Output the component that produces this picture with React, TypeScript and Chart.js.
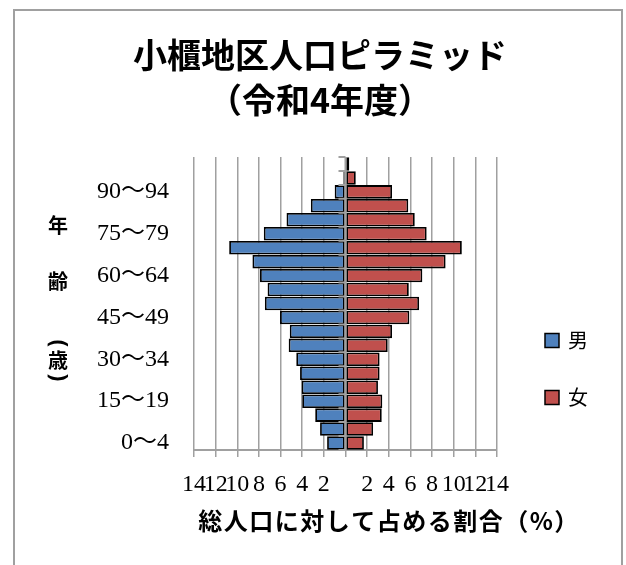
import React, { useEffect, useRef } from 'react';
import { Chart, registerables } from 'chart.js';

Chart.register(...registerables);

// Age groups, top (oldest) to bottom (youngest)
const AGE_LABELS = [
  '100〜', '95〜99', '90〜94', '85〜89', '80〜84', '75〜79', '70〜74',
  '65〜69', '60〜64', '55〜59', '50〜54', '45〜49', '40〜44', '35〜39',
  '30〜34', '25〜29', '20〜24', '15〜19', '10〜14', '5〜9', '0〜4',
];
// Share of total population (%)
const MALE = [
  0, 0.2, 1.0, 3.2, 5.45, 7.55, 10.75, 8.6, 7.9, 7.2, 7.45, 6.05, 5.15,
  5.25, 4.55, 4.2, 4.05, 4.0, 2.8, 2.35, 1.7,
];
const FEMALE = [
  0.35, 0.95, 4.3, 5.8, 6.4, 7.5, 10.75, 9.25, 7.1, 5.85, 6.8, 5.9, 4.3,
  3.9, 3.15, 3.15, 3.0, 3.4, 3.35, 2.55, 1.7,
];
const SERIES_NAMES = ['男', '女'];
const SERIES_COLORS = ['#4F81BD', '#C0504D'];
const X_MIN = -14;
const X_MAX = 14;
const X_STEP = 2;
const TITLE_LINES = ['小櫃地区人口ピラミッド', '（令和4年度）'];
const Y_TITLE_CHARS = ['年', '齢', '(', '歳', ')'];
const X_TITLE = '総人口に対して占める割合（%）';

const GRID_COLOR = '#a0a0a0';
const SERIF = "'Liberation Serif', 'Noto Sans CJK JP', serif";
const GOTHIC = "'Noto Sans CJK JP', 'Noto Sans', sans-serif";

const overlay = {
  id: 'overlay',
  afterDatasetsDraw(chart: any) {
    const { ctx, chartArea, scales } = chart;
    const x = scales.x;
    const y = scales.y;
    const x0 = x.getPixelForValue(0);
    ctx.save();
    ctx.strokeStyle = GRID_COLOR;
    ctx.lineWidth = 2;
    ctx.beginPath();
    ctx.moveTo(x0, chartArea.top);
    ctx.lineTo(x0, chartArea.bottom);
    for (let i = 0; i <= AGE_LABELS.length; i++) {
      const yy = y.getPixelForValue(i - 0.5);
      ctx.moveTo(x0 - 7, yy);
      ctx.lineTo(x0, yy);
    }
    ctx.stroke();
    ctx.restore();
  },
  afterDraw(chart: any) {
    const { ctx, chartArea } = chart;
    ctx.save();
    ctx.fillStyle = '#000';
    ctx.textAlign = 'center';
    ctx.textBaseline = 'middle';
    // chart title
    ctx.font = `bold 34px ${GOTHIC}`;
    TITLE_LINES.forEach((line, i) => {
      ctx.fillText(line, 320, 55 + i * 45);
    });
    // vertical y-axis title
    const cy = (chartArea.top + chartArea.bottom) / 2;
    const offsets = [-78, -22, 40, 57, 74];
    Y_TITLE_CHARS.forEach((ch, i) => {
      const yy = cy + offsets[i];
      if (ch === '(' || ch === ')') {
        ctx.save();
        ctx.translate(58, yy);
        ctx.rotate(Math.PI / 2);
        ctx.font = `bold 23px 'Noto Sans', sans-serif`;
        ctx.fillText(ch, 0, 0);
        ctx.restore();
      } else {
        ctx.font = `bold 20px ${GOTHIC}`;
        ctx.fillText(ch, 58, yy);
      }
    });
    // x-axis title
    ctx.font = `bold 24px ${GOTHIC}`;
    (ctx as any).letterSpacing = '1.5px';
    ctx.fillText(X_TITLE, 389, 521);
    (ctx as any).letterSpacing = '0px';
    // legend
    const legendY = [340.5, 397.5];
    ctx.textAlign = 'left';
    ctx.font = `20px ${GOTHIC}`;
    SERIES_NAMES.forEach((name, i) => {
      ctx.fillStyle = SERIES_COLORS[i];
      ctx.fillRect(545, legendY[i] - 7, 14, 14);
      ctx.strokeStyle = '#000';
      ctx.lineWidth = 1.5;
      ctx.strokeRect(545, legendY[i] - 7, 14, 14);
      ctx.fillStyle = '#000';
      ctx.fillText(name, 568, legendY[i]);
    });
    ctx.restore();
  },
};

const barBorder = (c: any) => (c.raw === 0 ? 0 : 1.8);

export default function App() {
  const ref = useRef<HTMLCanvasElement>(null);

  useEffect(() => {
    if (!ref.current) return;
    const chart = new Chart(ref.current, {
      type: 'bar',
      data: {
        labels: AGE_LABELS,
        datasets: [
          {
            label: SERIES_NAMES[0],
            data: MALE.map((v) => -v),
            backgroundColor: SERIES_COLORS[0],
            borderColor: '#000',
            borderWidth: barBorder,
            borderSkipped: false,
            barPercentage: 0.97,
            categoryPercentage: 1,
          },
          {
            label: SERIES_NAMES[1],
            data: FEMALE,
            backgroundColor: SERIES_COLORS[1],
            borderColor: '#000',
            borderWidth: barBorder,
            borderSkipped: false,
            barPercentage: 0.97,
            categoryPercentage: 1,
          },
        ],
      },
      options: {
        indexAxis: 'y',
        responsive: false,
        animation: false,
        layout: { padding: { left: 80, right: 129, top: 157, bottom: 0 } },
        plugins: {
          legend: { display: false },
          tooltip: { enabled: false },
          title: { display: false },
        },
        scales: {
          x: {
            type: 'linear',
            stacked: true,
            min: X_MIN,
            max: X_MAX,
            ticks: {
              stepSize: X_STEP,
              autoSkip: false,
              maxRotation: 0,
              minRotation: 0,
              padding: 13,
              color: '#000',
              font: { family: SERIF, size: 24 },
              callback: (v: any) => (Number(v) === 0 ? '' : String(Math.abs(Number(v)))),
            },
            grid: {
              color: GRID_COLOR,
              lineWidth: 1.5,
              drawTicks: true,
              tickLength: 7,
            },
            border: { display: true, color: GRID_COLOR, width: 2 },
            afterFit: (s: any) => {
              s.height = 115;
            },
          },
          y: {
            type: 'category',
            stacked: true,
            ticks: {
              autoSkip: false,
              padding: 25,
              color: '#000',
              font: { family: SERIF, size: 24 },
              callback: (_v: any, idx: number) =>
                (AGE_LABELS.length - 1 - idx) % 3 === 0 ? AGE_LABELS[idx] : '',
            },
            grid: { display: false, drawTicks: false },
            border: { display: false },
            afterFit: (s: any) => {
              s.width = 114;
            },
          },
        },
      },
      plugins: [overlay],
    });
    return () => chart.destroy();
  }, []);

  return (
    <>
      <div
        style={{
          position: 'fixed',
          left: 13,
          top: 9,
          width: 610,
          height: 620,
          border: '2px solid #a0a0a0',
          boxSizing: 'border-box',
        }}
      />
      <canvas
        ref={ref}
        width={626}
        height={565}
        style={{ position: 'fixed', left: 0, top: 0, display: 'block' }}
      />
    </>
  );
}
